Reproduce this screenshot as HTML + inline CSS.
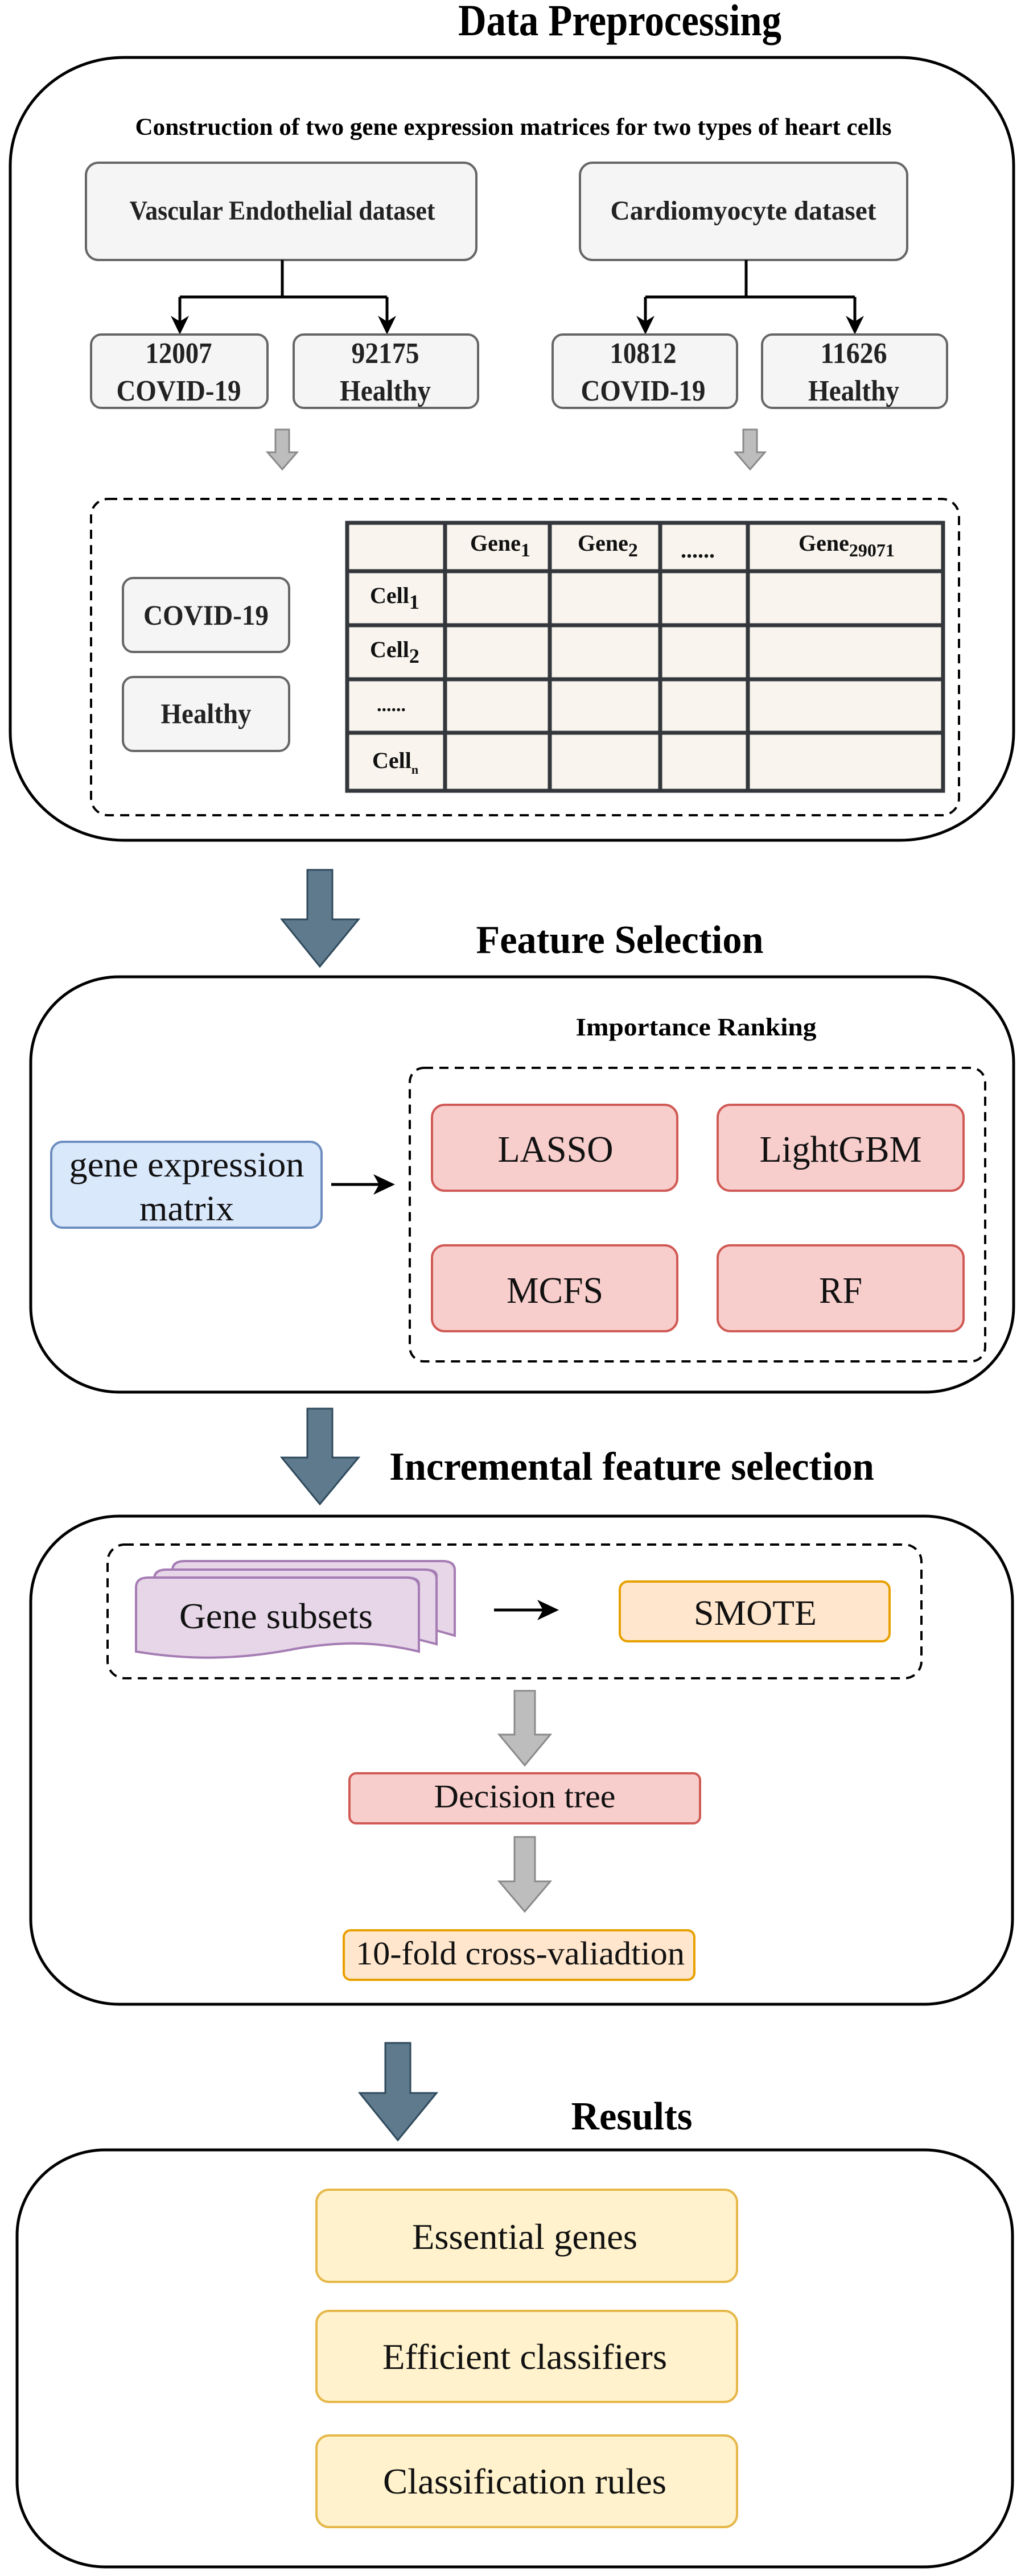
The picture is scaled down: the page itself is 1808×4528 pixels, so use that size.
<!DOCTYPE html>
<html><head><meta charset="utf-8"><style>html,body{margin:0;padding:0;background:#fff}svg{display:block}</style></head>
<body>
<svg width="1808" height="4528" viewBox="0 0 1808 4528" xmlns="http://www.w3.org/2000/svg" font-family="Liberation Serif, serif">
<!-- ===== Data Preprocessing ===== -->
<text x="1089" y="62" font-size="78" font-weight="bold" text-anchor="middle" textLength="568" lengthAdjust="spacingAndGlyphs">Data Preprocessing</text>
<rect x="18" y="101" width="1763" height="1376" rx="200" ry="190" fill="#fff" stroke="#000" stroke-width="5"/>
<text x="902" y="237" font-size="42" font-weight="bold" text-anchor="middle" textLength="1329" lengthAdjust="spacingAndGlyphs">Construction of two gene expression matrices for two types of heart cells</text>

<rect x="151" y="286" width="686" height="171" rx="22" fill="#f5f5f5" stroke="#666" stroke-width="4"/>
<text x="496" y="386" font-size="48" font-weight="bold" text-anchor="middle" fill="#222" textLength="537" lengthAdjust="spacingAndGlyphs">Vascular Endothelial dataset</text>
<rect x="1019" y="286" width="575" height="171" rx="22" fill="#f5f5f5" stroke="#666" stroke-width="4"/>
<text x="1306" y="386" font-size="48" font-weight="bold" text-anchor="middle" fill="#222" textLength="467" lengthAdjust="spacingAndGlyphs">Cardiomyocyte dataset</text>

<g stroke="#000" stroke-width="5" fill="none">
<path d="M496 457 V522 M316 522 H680 M316 522 V565 M680 522 V565"/>
<path d="M1311 457 V522 M1134 522 H1502 M1134 522 V565 M1502 522 V565"/>
</g>
<g fill="#000">
<path d="M300 555 L316 588 L332 555 L316 565 Z"/>
<path d="M664 555 L680 588 L696 555 L680 565 Z"/>
<path d="M1118 555 L1134 588 L1150 555 L1134 565 Z"/>
<path d="M1486 555 L1502 588 L1518 555 L1502 565 Z"/>
</g>

<g fill="#f5f5f5" stroke="#666" stroke-width="4">
<rect x="160" y="588" width="310" height="129" rx="18"/>
<rect x="516" y="588" width="324" height="129" rx="18"/>
<rect x="971" y="588" width="324" height="129" rx="18"/>
<rect x="1339" y="588" width="325" height="129" rx="18"/>
</g>
<g font-size="52" font-weight="bold" text-anchor="middle" fill="#222">
<text x="314" y="638" textLength="117" lengthAdjust="spacingAndGlyphs">12007</text>
<text x="314" y="704" textLength="219" lengthAdjust="spacingAndGlyphs">COVID-19</text>
<text x="677" y="638" textLength="119" lengthAdjust="spacingAndGlyphs">92175</text>
<text x="677" y="704" textLength="160" lengthAdjust="spacingAndGlyphs">Healthy</text>
<text x="1130" y="638" textLength="117" lengthAdjust="spacingAndGlyphs">10812</text>
<text x="1130" y="704" textLength="219" lengthAdjust="spacingAndGlyphs">COVID-19</text>
<text x="1500" y="638" textLength="117" lengthAdjust="spacingAndGlyphs">11626</text>
<text x="1500" y="704" textLength="160" lengthAdjust="spacingAndGlyphs">Healthy</text>
</g>
<g fill="#bdbdbd" stroke="#8a8a8a" stroke-width="3">
<path d="M484 755 H508 V795 H522 L496 825 L470 795 H484 Z"/>
<path d="M1306 755 H1330 V795 H1344 L1318 825 L1292 795 H1306 Z"/>
</g>

<rect x="160" y="877" width="1525" height="556" rx="30" fill="none" stroke="#000" stroke-width="4" stroke-dasharray="16,11"/>
<g fill="#f5f5f5" stroke="#666" stroke-width="4">
<rect x="216" y="1016" width="292" height="130" rx="18"/>
<rect x="216" y="1190" width="292" height="130" rx="18"/>
</g>
<text x="362" y="1098" font-size="50" font-weight="bold" text-anchor="middle" fill="#222" textLength="220" lengthAdjust="spacingAndGlyphs">COVID-19</text>
<text x="362" y="1271" font-size="50" font-weight="bold" text-anchor="middle" fill="#222" textLength="159" lengthAdjust="spacingAndGlyphs">Healthy</text>

<rect x="610" y="919" width="1047" height="471" fill="#f9f5ee" stroke="#33373c" stroke-width="7"/>
<g stroke="#33373c" stroke-width="7">
<path d="M782 919 V1390 M966 919 V1390 M1160 919 V1390 M1314 919 V1390"/>
<path d="M610 1004 H1657 M610 1099 H1657 M610 1194 H1657 M610 1288 H1657"/>
</g>
<g font-size="40" font-weight="bold" fill="#111">
<text x="826" y="968">Gene<tspan font-size="34" dy="10">1</tspan></text>
<text x="1015" y="968">Gene<tspan font-size="34" dy="10">2</tspan></text>
<text x="1196" y="980" font-size="40">......</text>
<text x="1403" y="968">Gene<tspan font-size="32" dy="10">29071</tspan></text>
<text x="650" y="1060">Cell<tspan font-size="36" dy="10">1</tspan></text>
<text x="650" y="1155">Cell<tspan font-size="36" dy="10">2</tspan></text>
<text x="662" y="1250" font-size="34">......</text>
<text x="654" y="1350">Cell<tspan font-size="22" dy="10">n</tspan></text>
</g>

<!-- arrow 1 -->
<path d="M540 1529 H584 V1616 H630 L562 1699 L495 1616 H540 Z" fill="#5f7a8c" stroke="#2f4a5c" stroke-width="3"/>

<!-- ===== Feature Selection ===== -->
<text x="1089" y="1675" font-size="70" font-weight="bold" text-anchor="middle" textLength="505" lengthAdjust="spacingAndGlyphs">Feature Selection</text>
<rect x="54" y="1717" width="1727" height="730" rx="155" ry="150" fill="#fff" stroke="#000" stroke-width="5"/>
<text x="1223" y="1820" font-size="44" font-weight="bold" text-anchor="middle" textLength="423" lengthAdjust="spacingAndGlyphs">Importance Ranking</text>
<rect x="720" y="1877" width="1011" height="516" rx="25" fill="none" stroke="#000" stroke-width="4" stroke-dasharray="16,11"/>
<g fill="#f8cecc" stroke="#d05a55" stroke-width="4">
<rect x="759" y="1942" width="431" height="151" rx="22"/>
<rect x="1261" y="1942" width="432" height="151" rx="22"/>
<rect x="759" y="2189" width="431" height="151" rx="22"/>
<rect x="1261" y="2189" width="432" height="151" rx="22"/>
</g>
<g font-size="66" text-anchor="middle" fill="#111">
<text x="976" y="2042" textLength="203" lengthAdjust="spacingAndGlyphs">LASSO</text>
<text x="1477" y="2042" textLength="285" lengthAdjust="spacingAndGlyphs">LightGBM</text>
<text x="975" y="2290" textLength="170" lengthAdjust="spacingAndGlyphs">MCFS</text>
<text x="1477" y="2290" textLength="76" lengthAdjust="spacingAndGlyphs">RF</text>
</g>
<rect x="90" y="2007" width="475" height="151" rx="20" fill="#dae8fc" stroke="#6c8ebf" stroke-width="4"/>
<text x="328" y="2068" font-size="62" text-anchor="middle" fill="#111" textLength="413" lengthAdjust="spacingAndGlyphs">gene expression</text>
<text x="328" y="2145" font-size="62" text-anchor="middle" fill="#111" textLength="166" lengthAdjust="spacingAndGlyphs">matrix</text>
<path d="M582 2082 H670" stroke="#000" stroke-width="5"/>
<path d="M656 2064 L694 2082 L656 2100 L666 2082 Z" fill="#000"/>

<!-- arrow 2 -->
<path d="M540 2476 H584 V2562 H630 L562 2644 L495 2562 H540 Z" fill="#5f7a8c" stroke="#2f4a5c" stroke-width="3"/>

<!-- ===== Incremental ===== -->
<text x="1110" y="2601" font-size="70" font-weight="bold" text-anchor="middle" textLength="852" lengthAdjust="spacingAndGlyphs">Incremental feature selection</text>
<rect x="54" y="2665" width="1725" height="858" rx="155" ry="150" fill="#fff" stroke="#000" stroke-width="5"/>
<rect x="189" y="2715" width="1430" height="235" rx="30" fill="none" stroke="#000" stroke-width="4" stroke-dasharray="16,11"/>
<g fill="#e6d6e8" stroke="#a57cb3" stroke-width="4">
<path d="M303 2760 Q303 2744 325 2744 H777 Q799 2744 799 2760 V2875 L767 2866 V2770 Q767 2759 745 2759 H303 Z"/>
<path d="M271 2775 Q271 2759 293 2759 H745 Q767 2759 767 2775 V2890 L736 2882 V2785 Q736 2773 714 2773 H271 Z"/>
<path d="M239 2790 Q239 2773 261 2773 H714 Q736 2773 736 2790 V2903 C660 2885 600 2885 520 2898 C420 2918 330 2918 239 2903 Z"/>
</g>
<text x="485" y="2862" font-size="64" text-anchor="middle" fill="#111" textLength="340" lengthAdjust="spacingAndGlyphs">Gene subsets</text>
<path d="M868 2830 H958" stroke="#000" stroke-width="5"/>
<path d="M944 2812 L982 2830 L944 2848 L954 2830 Z" fill="#000"/>
<rect x="1089" y="2780" width="474" height="105" rx="14" fill="#ffe6cc" stroke="#e8a000" stroke-width="4"/>
<text x="1327" y="2856" font-size="62" text-anchor="middle" fill="#111" textLength="216" lengthAdjust="spacingAndGlyphs">SMOTE</text>

<g fill="#bdbdbd" stroke="#8a8a8a" stroke-width="3">
<path d="M904 2972 H940 V3049 H967 L922 3103 L877 3049 H904 Z"/>
<path d="M904 3229 H940 V3307 H967 L922 3360 L877 3307 H904 Z"/>
</g>
<rect x="614" y="3117" width="616" height="88" rx="12" fill="#f8cecc" stroke="#d05a55" stroke-width="4"/>
<text x="922" y="3177" font-size="58" text-anchor="middle" fill="#111" textLength="319" lengthAdjust="spacingAndGlyphs">Decision tree</text>
<rect x="604" y="3393" width="616" height="87" rx="12" fill="#ffe6cc" stroke="#e8a000" stroke-width="4"/>
<text x="914" y="3453" font-size="58" text-anchor="middle" fill="#111" textLength="578" lengthAdjust="spacingAndGlyphs">10-fold cross-valiadtion</text>

<!-- arrow 3 -->
<path d="M677 3591 H721 V3679 H767 L699 3762 L632 3679 H677 Z" fill="#5f7a8c" stroke="#2f4a5c" stroke-width="3"/>

<!-- ===== Results ===== -->
<text x="1110" y="3743" font-size="70" font-weight="bold" text-anchor="middle" textLength="213" lengthAdjust="spacingAndGlyphs">Results</text>
<rect x="30" y="3779" width="1749" height="733" rx="155" ry="150" fill="#fff" stroke="#000" stroke-width="5"/>
<g fill="#fff2cc" stroke="#e6b84a" stroke-width="4">
<rect x="556" y="3849" width="739" height="162" rx="22"/>
<rect x="556" y="4062" width="739" height="160" rx="22"/>
<rect x="556" y="4281" width="739" height="161" rx="22"/>
</g>
<g font-size="64" text-anchor="middle" fill="#111">
<text x="922" y="3953" textLength="396" lengthAdjust="spacingAndGlyphs">Essential genes</text>
<text x="922" y="4164" textLength="500" lengthAdjust="spacingAndGlyphs">Efficient classifiers</text>
<text x="922" y="4383" textLength="498" lengthAdjust="spacingAndGlyphs">Classification rules</text>
</g>
</svg>
</body></html>
